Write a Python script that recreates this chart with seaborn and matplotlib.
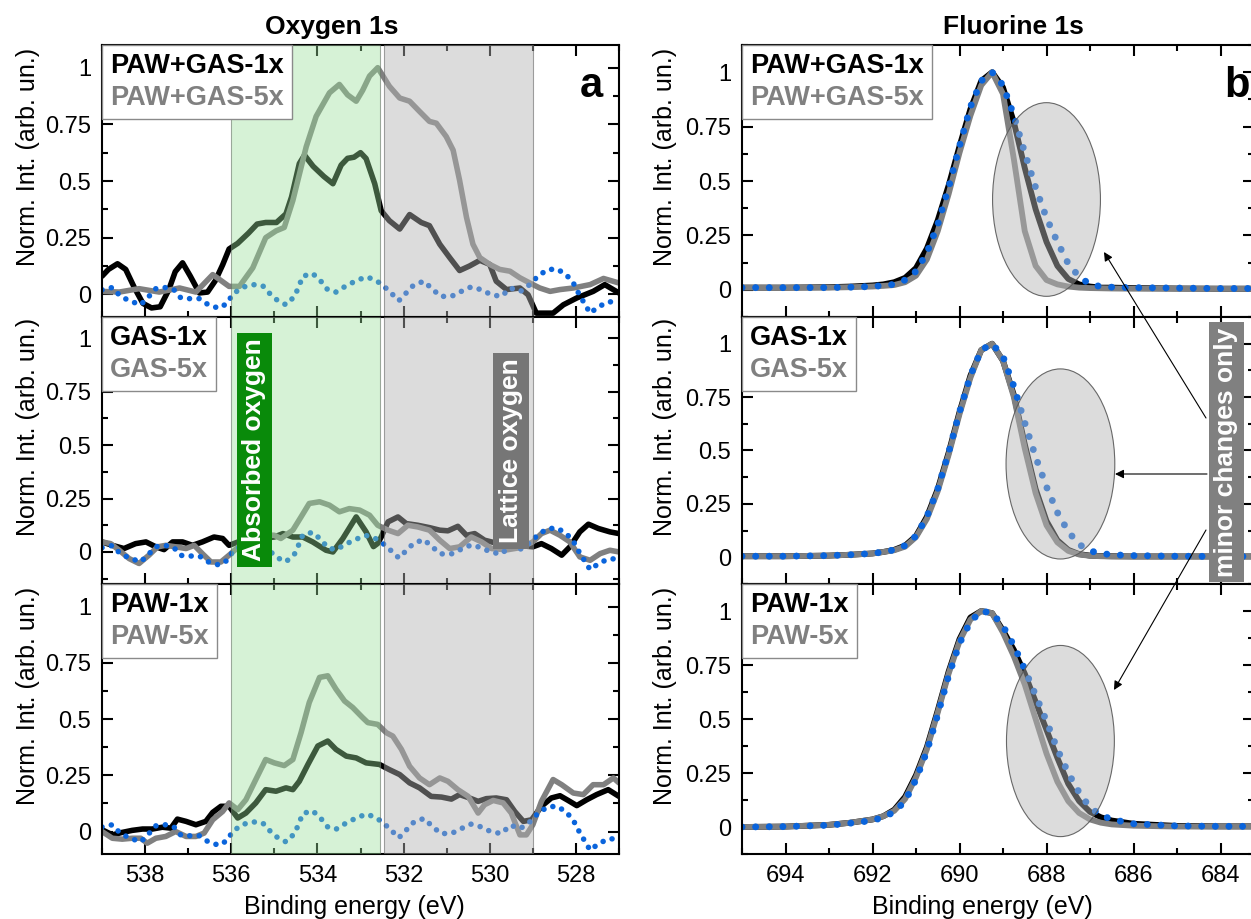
import matplotlib
matplotlib.use("Agg")
import numpy as np
import pandas as pd
import matplotlib.pyplot as plt
import seaborn as sns
from matplotlib.patches import Ellipse, FancyArrowPatch
from matplotlib.lines import Line2D
from matplotlib.ticker import MultipleLocator, FixedLocator, FuncFormatter

# ---------------- DATA: Oxygen 1s ----------------
o_pawgas1_e = [539.0, 538.85, 538.64, 538.45, 538.25, 538.05, 537.85, 537.65, 537.45, 537.3, 537.13,
               536.95, 536.74, 536.55, 536.37, 536.2, 536.05, 535.85, 535.6, 535.4, 535.2, 534.95,
               534.73, 534.6, 534.42, 534.3, 534.1, 533.85, 533.64, 533.45, 533.3, 533.15, 533.0,
               532.87, 532.67, 532.52, 532.33, 532.09, 531.86, 531.59, 531.4, 531.16, 530.93, 530.7,
               530.47, 530.23, 530.0, 529.85, 529.61, 529.3, 529.11, 528.92, 528.53, 528.29, 527.98,
               527.6, 527.33, 527.0]
o_pawgas1_i = [0.08, 0.11, 0.135, 0.11, 0.03, -0.04, -0.06, -0.055, 0.02, 0.1, 0.139,
               0.08, 0.006, 0.01, 0.06, 0.13, 0.2, 0.225, 0.27, 0.31, 0.317, 0.317,
               0.355, 0.43, 0.577, 0.614, 0.565, 0.52, 0.488, 0.57, 0.6, 0.605, 0.625,
               0.599, 0.488, 0.369, 0.325, 0.288, 0.352, 0.317, 0.303, 0.221, 0.162, 0.105,
               0.125, 0.15, 0.132, 0.058, 0.021, 0.028, -0.002, -0.083, -0.083, -0.046, -0.016,
               0.013, 0.043, 0.006]

o_pawgas5_e = [539.0, 538.6, 538.14, 537.67, 537.2, 536.82, 536.43, 536.05, 535.81, 535.5, 535.2,
               534.96, 534.77, 534.57, 534.26, 534.03, 533.72, 533.49, 533.3, 533.1, 532.95, 532.79,
               532.6, 532.33, 532.09, 531.86, 531.63, 531.4, 531.24, 531.01, 530.85, 530.7, 530.54,
               530.39, 530.23, 530.0, 529.77, 529.53, 529.3, 529.07, 528.84, 528.6, 528.37, 528.06,
               527.67, 527.36, 527.0]
o_pawgas5_i = [0.013, 0.01, 0.025, 0.01, 0.028, 0.01, 0.087, 0.035, 0.035, 0.117, 0.25,
               0.28, 0.295, 0.414, 0.651, 0.785, 0.889, 0.926, 0.88, 0.852, 0.9, 0.963,
               1.0, 0.918, 0.866, 0.852, 0.807, 0.763, 0.755, 0.696, 0.636, 0.503, 0.34,
               0.221, 0.162, 0.132, 0.11, 0.102, 0.073, 0.05, 0.028, 0.013, 0.021, 0.028,
               0.043, 0.07, 0.05]

o_gas1_e = [539.0, 538.76, 538.49, 538.22, 537.98, 537.75, 537.56, 537.36, 537.13, 536.9, 536.67,
            536.4, 536.2, 536.05, 535.8, 535.5, 535.2, 535.0, 534.8, 534.57, 534.34, 534.11,
            533.8, 533.64, 533.41, 533.1, 532.87, 532.7, 532.6, 532.52, 532.36, 532.13, 531.94,
            531.67, 531.4, 531.16, 530.97, 530.74, 530.54, 530.35, 530.12, 529.96, 529.6, 529.3,
            529.0, 528.8, 528.57, 528.33, 528.14, 527.91, 527.71, 527.48, 527.21, 527.0]
o_gas1_i = [0.047, 0.031, 0.016, 0.039, 0.047, 0.024, 0.011, 0.047, 0.047, 0.031, 0.047,
            0.07, 0.063, 0.031, 0.05, 0.06, 0.065, 0.07, 0.086, 0.07, 0.07, 0.047,
            0.008, 0.0, 0.063, 0.164, 0.094, 0.025, 0.04, 0.07, 0.141, 0.164, 0.133,
            0.125, 0.114, 0.102, 0.099, 0.12, 0.078, 0.086, 0.055, 0.047, 0.03, 0.03,
            0.024, 0.039, 0.016, -0.015, 0.024, 0.094, 0.13, 0.11, 0.094, 0.086]

o_gas5_e = [539.0, 538.8, 538.6, 538.37, 538.14, 537.91, 537.71, 537.52, 537.29, 537.05, 536.86,
            536.67, 536.47, 536.24, 536.05, 535.8, 535.5, 535.2, 535.0, 534.85, 534.57, 534.38,
            534.19, 533.95, 533.72, 533.49, 533.26, 533.02, 532.79, 532.6, 532.36, 532.13, 531.9,
            531.67, 531.4, 531.16, 530.93, 530.7, 530.43, 530.19, 529.96, 529.6, 529.3, 529.0,
            528.8, 528.6, 528.37, 528.14, 527.91, 527.67, 527.44, 527.21, 527.0]
o_gas5_i = [0.047, 0.039, 0.008, -0.031, -0.054, -0.015, 0.024, 0.031, 0.024, 0.016, 0.031,
            -0.008, -0.047, -0.047, -0.015, 0.03, 0.06, 0.08, 0.078, 0.063, 0.102, 0.164,
            0.227, 0.235, 0.219, 0.188, 0.203, 0.196, 0.172, 0.125, 0.102, 0.086, 0.125,
            0.117, 0.102, 0.055, 0.016, 0.024, 0.07, 0.047, 0.016, 0.01, 0.02, 0.047,
            0.086, 0.102, 0.078, 0.047, -0.023, -0.039, -0.008, 0.008, 0.0]

o_paw1_e = [539.0, 538.76, 538.53, 538.3, 538.06, 537.83, 537.6, 537.4, 537.25, 537.05, 536.82,
            536.59, 536.43, 536.24, 536.05, 535.85, 535.66, 535.43, 535.2, 534.96, 534.73, 534.57,
            534.42, 534.22, 533.99, 533.76, 533.57, 533.33, 533.1, 532.87, 532.56, 532.33, 532.09,
            531.86, 531.63, 531.36, 531.12, 530.89, 530.7, 530.47, 530.27, 530.08, 529.85, 529.61,
            529.42, 529.22, 529.03, 528.8, 528.57, 528.37, 528.18, 527.98, 527.75, 527.52, 527.25,
            527.0]
o_paw1_i = [0.008, -0.015, -0.004, 0.005, 0.011, 0.011, 0.019, 0.015, 0.055, 0.045, 0.03,
            0.045, 0.085, 0.112, 0.112, 0.06, 0.082, 0.127, 0.186, 0.179, 0.194, 0.186,
            0.223, 0.298, 0.38, 0.402, 0.365, 0.335, 0.327, 0.305, 0.298, 0.275, 0.253,
            0.216, 0.194, 0.156, 0.153, 0.144, 0.164, 0.149, 0.134, 0.146, 0.149, 0.141,
            0.089, 0.045, 0.052, 0.112, 0.149, 0.159, 0.138, 0.115, 0.141, 0.164, 0.186,
            0.156]

o_paw5_e = [539.0, 538.76, 538.53, 538.3, 538.1, 537.95, 537.75, 537.52, 537.29, 537.05, 536.82,
            536.63, 536.43, 536.2, 536.05, 535.85, 535.66, 535.43, 535.2, 535.0, 534.77, 534.57,
            534.38, 534.19, 533.95, 533.76, 533.57, 533.37, 533.18, 532.95, 532.83, 532.6, 532.4,
            532.25, 532.05, 531.86, 531.63, 531.4, 531.16, 530.97, 530.74, 530.5, 530.27, 530.12,
            529.92, 529.69, 529.5, 529.3, 529.15, 529.0, 528.8, 528.53, 528.33, 528.06, 527.83,
            527.6, 527.36, 527.13, 527.0]
o_paw5_i = [0.0, -0.03, -0.034, -0.03, -0.03, -0.052, -0.03, -0.022, 0.0, -0.022, -0.022,
            -0.007, 0.052, 0.089, 0.127, 0.097, 0.141, 0.231, 0.32, 0.305, 0.293, 0.32,
            0.439, 0.573, 0.685, 0.692, 0.633, 0.58, 0.551, 0.506, 0.484, 0.476, 0.439,
            0.424, 0.365, 0.29, 0.238, 0.208, 0.238, 0.223, 0.186, 0.156, 0.082, 0.119,
            0.138, 0.127, 0.082, -0.015, -0.015, 0.03, 0.134, 0.231, 0.208, 0.171, 0.164,
            0.208, 0.208, 0.238, 0.216]

o_ref_e = [539.0, 538.76, 538.57, 538.33, 538.1, 537.91, 537.75, 537.52, 537.33, 537.17, 536.98,
           536.74, 536.51, 536.28, 536.09, 535.97, 535.74, 535.5, 535.27, 535.12, 534.92, 534.73,
           534.53, 534.42, 534.34, 534.11, 533.92, 533.76, 533.57, 533.33, 533.1, 532.87, 532.67,
           532.48, 532.29, 532.11, 531.94, 531.77, 531.53, 531.36, 531.14, 530.89, 530.66, 530.43,
           530.21, 529.96, 529.73, 529.52, 529.29, 529.07, 528.9, 528.68, 528.46, 528.24, 528.06,
           527.92, 527.67, 527.5, 527.27, 527.02]
o_ref_i = [0.02, 0.03, -0.009, -0.031, -0.046, -0.009, 0.025, 0.03, 0.02, -0.016, -0.019,
           -0.019, -0.049, -0.061, -0.039, 0.0, 0.031, 0.043, 0.038, 0.006, -0.028, -0.046,
           -0.009, 0.04, 0.08, 0.092, 0.058, 0.02, 0.01, 0.038, 0.06, 0.077, 0.065,
           0.04, 0.006, -0.028, 0.006, 0.04, 0.058, 0.028, -0.009, -0.009, 0.013, 0.033,
           0.021, -0.002, -0.009, 0.028, 0.013, 0.043, 0.077, 0.107, 0.113, 0.09, 0.05,
           -0.002, -0.083, -0.058, -0.034, -0.031]

# ---------------- DATA: Fluorine 1s ----------------
f_energy = [695, 694, 693, 692.5, 692, 691.75, 691.5, 691.25, 691, 690.75, 690.5, 690.25, 690,
            689.75, 689.5, 689.25, 689, 688.75, 688.5, 688.25, 688, 687.75, 687.5, 687.25, 687,
            686.75, 686.5, 686, 685, 684, 683.2]
f_pawgas1 = [0.01, 0.01, 0.012, 0.015, 0.02, 0.025, 0.035, 0.055, 0.1, 0.19, 0.32, 0.48, 0.66,
             0.83, 0.96, 1.0, 0.93, 0.77, 0.56, 0.37, 0.22, 0.11, 0.05, 0.025, 0.015,
             0.01, 0.01, 0.008, 0.006, 0.005, 0.005]
f_pawgas5 = [0.01, 0.01, 0.01, 0.012, 0.015, 0.018, 0.022, 0.035, 0.065, 0.14, 0.27, 0.44, 0.63,
             0.8, 0.94, 1.0, 0.9, 0.6, 0.27, 0.11, 0.045, 0.025, 0.015, 0.01, 0.008,
             0.007, 0.006, 0.005, 0.005, 0.005, 0.005]
f_pawgas_ref = [0.01, 0.01, 0.01, 0.012, 0.015, 0.02, 0.025, 0.045, 0.085, 0.17, 0.3, 0.47, 0.66,
                0.84, 0.96, 1.0, 0.94, 0.8, 0.63, 0.47, 0.33, 0.22, 0.12, 0.06, 0.025,
                0.015, 0.012, 0.01, 0.008, 0.006, 0.006]
f_gas1 = [0.005, 0.005, 0.008, 0.012, 0.018, 0.025, 0.035, 0.055, 0.1, 0.19, 0.32, 0.49, 0.68,
          0.85, 0.97, 1.0, 0.92, 0.76, 0.53, 0.32, 0.17, 0.08, 0.035, 0.015, 0.008,
          0.006, 0.005, 0.004, 0.004, 0.004, 0.004]
f_gas5 = [0.005, 0.005, 0.008, 0.012, 0.018, 0.025, 0.033, 0.05, 0.095, 0.18, 0.31, 0.48, 0.67,
          0.84, 0.97, 1.0, 0.92, 0.75, 0.51, 0.3, 0.15, 0.07, 0.03, 0.013, 0.007,
          0.005, 0.004, 0.004, 0.004, 0.004, 0.004]
f_gas_ref = [0.005, 0.005, 0.008, 0.012, 0.018, 0.025, 0.035, 0.055, 0.1, 0.19, 0.32, 0.49, 0.68,
             0.85, 0.97, 1.0, 0.94, 0.8, 0.63, 0.47, 0.33, 0.21, 0.12, 0.06, 0.03,
             0.018, 0.012, 0.008, 0.005, 0.004, 0.004]
f_paw1 = [0.0, 0.002, 0.01, 0.02, 0.035, 0.05, 0.08, 0.14, 0.24, 0.37, 0.54, 0.72, 0.87,
          0.97, 1.0, 0.99, 0.91, 0.82, 0.71, 0.58, 0.45, 0.32, 0.2, 0.12, 0.07,
          0.045, 0.03, 0.015, 0.005, 0.003, 0.003]
f_paw5 = [0.0, 0.002, 0.01, 0.02, 0.035, 0.05, 0.075, 0.13, 0.23, 0.36, 0.53, 0.71, 0.86,
          0.96, 1.0, 0.99, 0.9, 0.79, 0.66, 0.5, 0.34, 0.21, 0.12, 0.065, 0.035,
          0.02, 0.012, 0.006, 0.002, 0.002, 0.002]
f_paw_ref = [0.0, 0.002, 0.008, 0.018, 0.03, 0.045, 0.07, 0.12, 0.22, 0.35, 0.52, 0.7, 0.85,
             0.95, 1.0, 0.99, 0.93, 0.84, 0.73, 0.61, 0.49, 0.36, 0.25, 0.16, 0.09,
             0.055, 0.035, 0.015, 0.005, 0.003, 0.003]

legend_labels = [["PAW+GAS-1x", "PAW+GAS-5x"], ["GAS-1x", "GAS-5x"], ["PAW-1x", "PAW-5x"]]
yticks_major = [0, 0.25, 0.5, 0.75, 1]

# ---------------- STYLE ----------------
sns.set_theme(style="ticks")
plt.rcParams['font.family'] = ['Liberation Sans', 'DejaVu Sans']
plt.rcParams['axes.linewidth'] = 1.5
plt.rcParams['axes.edgecolor'] = 'black'
plt.rcParams['text.color'] = 'black'
plt.rcParams['axes.labelcolor'] = 'black'
plt.rcParams['xtick.color'] = 'black'
plt.rcParams['ytick.color'] = 'black'

W, H = 1251, 919
fig = plt.figure(figsize=(W / 100, H / 100), dpi=100)


def ax_at(x0, x1, ytop, ybot):
    return fig.add_axes([x0 / W, 1 - ybot / H, (x1 - x0) / W, (ybot - ytop) / H])


def px(x, y):
    return (x / W, 1 - y / H)


rows = [(45, 317), (317, 584), (584, 854)]
left_ylims = [(-0.1, 1.1), (-0.15, 1.1), (-0.1, 1.1)]
right_ylims = [(-0.125, 1.125)] * 3

BLACK = 'black'
GRAY = '#808080'
BLUE = '#0a64dc'


def style_axis(ax, xlim, ylim, bottom):
    ax.set_xlim(*xlim)
    ax.set_ylim(*ylim)
    ax.xaxis.set_major_locator(MultipleLocator(2))
    ax.xaxis.set_minor_locator(MultipleLocator(1))
    ax.yaxis.set_major_locator(FixedLocator(yticks_major))
    ax.yaxis.set_minor_locator(MultipleLocator(0.125))
    ax.yaxis.set_major_formatter(FuncFormatter(lambda v, p: f"{v:g}"))
    ax.tick_params(which='both', direction='in', top=True, right=True, width=1.5, colors='black')
    ax.tick_params(which='major', length=8, labelsize=17)
    ax.tick_params(which='minor', length=4.5)
    ax.tick_params(axis='x', pad=8, labelbottom=bottom)
    ax.tick_params(axis='y', pad=8)
    for s in ax.spines.values():
        s.set_linewidth(1.5)
        s.set_color('black')
    ax.set_xlabel('')
    ax.set_ylabel('Norm. Int. (arb. un.)', fontsize=18, color='black')


def add_legend(ax, labels):
    handles = [Line2D([], [], linestyle='none') for _ in labels]
    leg = ax.legend(handles, labels, loc='upper left', bbox_to_anchor=(0, 1), borderaxespad=0,
                    handlelength=0, handletextpad=0, frameon=True, fancybox=False, framealpha=1,
                    edgecolor='#8a8a8a', prop={'weight': 'bold', 'size': 19.5},
                    labelcolor=[BLACK, GRAY], borderpad=0.3, labelspacing=0.22)
    leg.get_frame().set_linewidth(1.0)
    leg.set_zorder(6)


# ---------------- LEFT: Oxygen 1s ----------------
o_sets = [(o_pawgas1_e, o_pawgas1_i, o_pawgas5_e, o_pawgas5_i),
          (o_gas1_e, o_gas1_i, o_gas5_e, o_gas5_i),
          (o_paw1_e, o_paw1_i, o_paw5_e, o_paw5_i)]
for k, (e1, i1, e5, i5) in enumerate(o_sets):
    ax = ax_at(102, 619, *rows[k])
    sns.lineplot(x=e1, y=i1, ax=ax, color=BLACK, lw=4, sort=False, estimator=None, zorder=2)
    sns.lineplot(x=e5, y=i5, ax=ax, color=GRAY, lw=4, sort=False, estimator=None, zorder=2.1)
    sns.lineplot(x=o_ref_e, y=o_ref_i, ax=ax, color=BLUE, lw=4, sort=False, estimator=None,
                 zorder=2.2, linestyle=(0, (0.01, 1.7)), dash_capstyle='round')
    ax.axvspan(536.0, 532.55, facecolor=(0.6, 0.88, 0.6, 0.4), edgecolor=(0.4, 0.45, 0.4, 0.6),
               lw=0.8, zorder=3)
    ax.axvspan(532.45, 529.0, facecolor=(0.7, 0.7, 0.7, 0.45), edgecolor=(0.4, 0.4, 0.4, 0.6),
               lw=0.8, zorder=3)
    style_axis(ax, (539, 527), left_ylims[k], k == 2)
    ax.yaxis.set_label_coords(-0.12, 0.587)
    add_legend(ax, legend_labels[k])
    if k == 2:
        ax.set_xlabel('Binding energy (eV)', fontsize=18, color='black')
        ax.xaxis.set_label_coords(0.488, -0.152)

# ---------------- RIGHT: Fluorine 1s ----------------
f_sets = [(f_pawgas1, f_pawgas5, f_pawgas_ref), (f_gas1, f_gas5, f_gas_ref), (f_paw1, f_paw5, f_paw_ref)]
ellipses = [(688.0, 0.415, 2.48, 0.89), (687.68, 0.437, 2.5, 0.89), (687.68, 0.398, 2.48, 0.885)]
for k, (i1, i5, iref) in enumerate(f_sets):
    ax = ax_at(742, 1254, *rows[k])
    sns.lineplot(x=f_energy, y=i1, ax=ax, color=BLACK, lw=4.2, sort=False, estimator=None, zorder=2)
    sns.lineplot(x=f_energy, y=i5, ax=ax, color=GRAY, lw=4.2, sort=False, estimator=None, zorder=2.1)
    sns.lineplot(x=f_energy, y=iref, ax=ax, color=BLUE, lw=5, sort=False, estimator=None,
                 zorder=2.2, linestyle=(0, (0.01, 1.95)), dash_capstyle='round')
    cx, cy, w, h = ellipses[k]
    ax.add_patch(Ellipse((cx, cy), w, h, facecolor=(0.71, 0.71, 0.71, 0.47),
                         edgecolor=(0.35, 0.35, 0.35, 0.9), lw=0.8, zorder=4))
    style_axis(ax, (695, 683.23), right_ylims[k], k == 2)
    ax.yaxis.set_label_coords(-0.127, 0.587)
    add_legend(ax, legend_labels[k])
    if k == 2:
        ax.set_xlabel('Binding energy (eV)', fontsize=18, color='black')
        ax.xaxis.set_label_coords(0.469, -0.152)

# ---------------- Annotations ----------------
fig.text(*px(332, 34), 'Oxygen 1s', ha='center', va='baseline', fontsize=19, fontweight='bold', color='black')
fig.text(*px(1013, 34), 'Fluorine 1s', ha='center', va='baseline', fontsize=19, fontweight='bold', color='black')
fig.text(*px(591, 97), 'a', ha='center', va='baseline', fontsize=30, fontweight='bold', color='black')
fig.text(*px(1237, 97), 'b', ha='center', va='baseline', fontsize=30, fontweight='bold', color='black')

fig.text(*px(254.5, 450), 'Absorbed oxygen', rotation=90, ha='center', va='center', color='white',
         fontsize=19, fontweight='bold',
         bbox=dict(boxstyle='square,pad=0.22', facecolor='#098a0a', edgecolor='none'))
fig.text(*px(511, 451), 'Lattice oxygen', rotation=90, ha='center', va='center', color='white',
         fontsize=19, fontweight='bold',
         bbox=dict(boxstyle='square,pad=0.22', facecolor='#767676', edgecolor='none'))
fig.text(*px(1226.5, 452), 'minor changes only', rotation=90, ha='center', va='center', color='white',
         fontsize=19, fontweight='bold',
         bbox=dict(boxstyle='square,pad=0.22', facecolor='#808080', edgecolor='none'))

for tail, head in [((1206, 418), (1104, 252)), ((1207, 474), (1115, 474)), ((1206, 530), (1114, 690))]:
    fig.add_artist(FancyArrowPatch(px(*tail), px(*head), transform=fig.transFigure,
                                   arrowstyle='-|>', mutation_scale=13, lw=0.8, color='black',
                                   shrinkA=0, shrinkB=0, zorder=10))

fig.savefig('out.png', dpi=100)
